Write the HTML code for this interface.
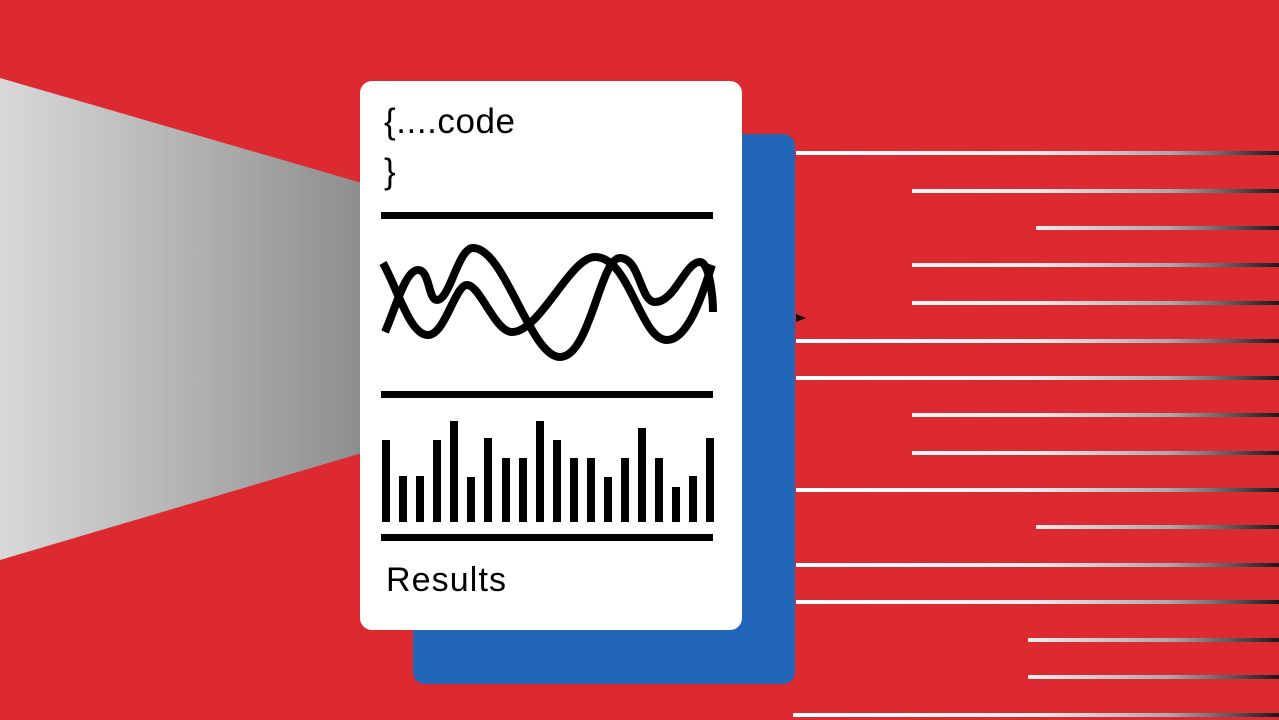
<!DOCTYPE html>
<html><head><style>
html,body{margin:0;padding:0;}
body{width:1279px;height:720px;overflow:hidden;background:#dc2a30;position:relative;font-family:"Liberation Sans",sans-serif;}
</style></head><body>
<svg width="1279" height="720" style="position:absolute;left:0;top:0">
<defs>
<linearGradient id="g" x1="0" x2="1" y1="0" y2="0"><stop offset="0" stop-color="#d9d9d9"/><stop offset="1" stop-color="#8e8e8e"/></linearGradient>
<linearGradient id="w" gradientUnits="userSpaceOnUse" x1="790" x2="1279" y1="0" y2="0"><stop offset="0" stop-color="#fff"/><stop offset="0.5" stop-color="#ececec"/><stop offset="0.78" stop-color="#a8a8a8"/><stop offset="1" stop-color="#1a1a1a"/></linearGradient>
</defs>
<polygon points="0,78 362,183 362,453 0,560" fill="url(#g)"/>
<rect x="413" y="134" width="382" height="550" rx="12" fill="#2166b8"/>
<polygon points="796,314 806,318 796,322" fill="#111"/>
<g fill="url(#w)">
<rect x="796" y="151" width="483" height="4"/>
<rect x="912" y="189" width="367" height="4"/>
<rect x="1036" y="226" width="243" height="4"/>
<rect x="912" y="263" width="367" height="4"/>
<rect x="912" y="301" width="367" height="4"/>
<rect x="796" y="339" width="483" height="4"/>
<rect x="796" y="376" width="483" height="4"/>
<rect x="912" y="413" width="367" height="4"/>
<rect x="912" y="451" width="367" height="4"/>
<rect x="796" y="488" width="483" height="4"/>
<rect x="1036" y="525" width="243" height="4"/>
<rect x="796" y="563" width="483" height="4"/>
<rect x="796" y="600" width="483" height="4"/>
<rect x="1028" y="638" width="251" height="4"/>
<rect x="1028" y="675" width="251" height="4"/>
<rect x="793" y="713" width="486" height="4"/>
</g>
<rect x="360" y="81" width="382" height="549" rx="12" fill="#fff"/>
<g fill="#000">
<rect x="381" y="212" width="332" height="7"/>
<rect x="381" y="391" width="332" height="7"/>
<rect x="381" y="534" width="332" height="7"/>
<rect x="382" y="440" width="8" height="82"/>
<rect x="399" y="476" width="8" height="46"/>
<rect x="416" y="476" width="8" height="46"/>
<rect x="433" y="440" width="8" height="82"/>
<rect x="450" y="421" width="8" height="101"/>
<rect x="467" y="477" width="8" height="45"/>
<rect x="484" y="438" width="8" height="84"/>
<rect x="502" y="458" width="8" height="64"/>
<rect x="519" y="458" width="8" height="64"/>
<rect x="536" y="421" width="8" height="101"/>
<rect x="553" y="440" width="8" height="82"/>
<rect x="570" y="458" width="8" height="64"/>
<rect x="587" y="458" width="8" height="64"/>
<rect x="604" y="477" width="8" height="45"/>
<rect x="621" y="458" width="8" height="64"/>
<rect x="638" y="428" width="8" height="94"/>
<rect x="655" y="458" width="8" height="64"/>
<rect x="672" y="487" width="8" height="35"/>
<rect x="689" y="476" width="8" height="46"/>
<rect x="706" y="438" width="8" height="84"/>
</g>
<g fill="none" stroke="#000" stroke-width="8">
<path d="M383,263 C398,290 410,335 428,335 C445,335 455,285 467,285 C480,285 495,332 512,332 C540,332 570,257 595,257 C630,257 640,340 667,340 C690,340 705,285 712,265"/>
<path d="M385,332 C395,310 405,270 418,270 C430,270 428,300 437,300 C450,300 458,248 473,248 C505,248 530,357 560,357 C590,357 600,258 620,258 C640,258 640,302 655,302 C675,302 685,262 700,262 C710,262 713,300 713,312"/>
</g>
<text x="384" y="133" font-family="Liberation Sans, sans-serif" font-size="35" fill="#000" textLength="131">{....code</text>
<text x="384" y="183" font-family="Liberation Sans, sans-serif" font-size="35" fill="#000">}</text>
<text x="386" y="591" font-family="Liberation Sans, sans-serif" font-size="34" fill="#000" textLength="120">Results</text>
</svg>
</body></html>
